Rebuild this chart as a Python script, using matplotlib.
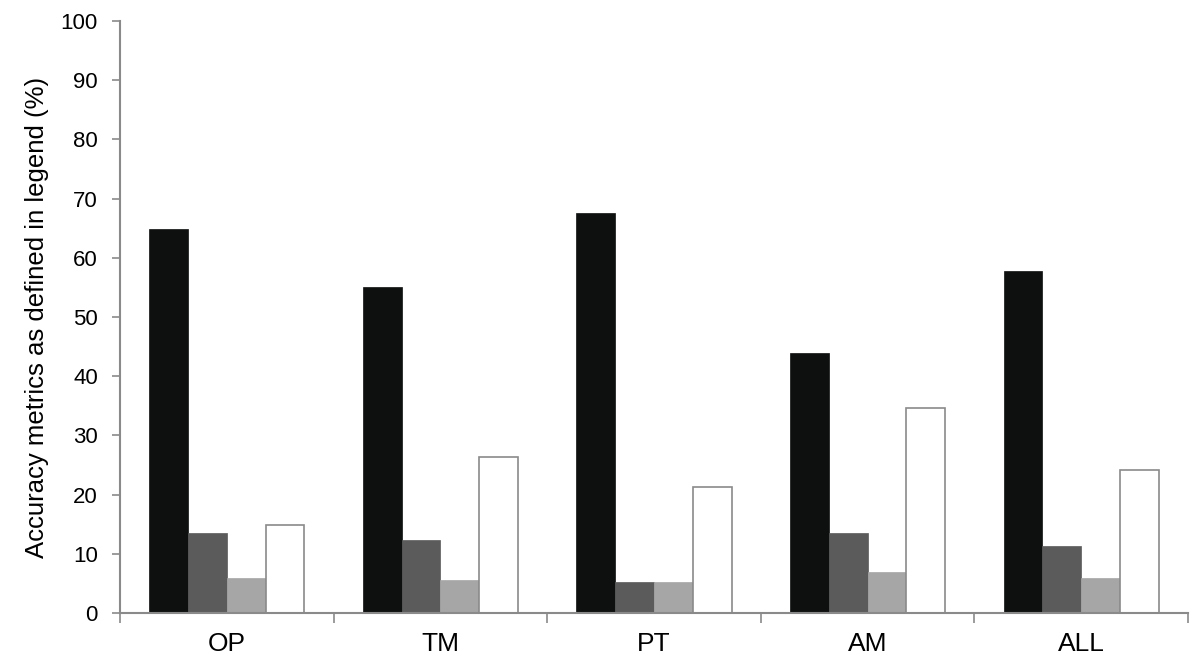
import numpy as np
import matplotlib
matplotlib.use("Agg")
import matplotlib.pyplot as plt

plt.rcParams['font.family'] = ['Liberation Sans', 'DejaVu Sans']

categories = ["OP", "TM", "PT", "AM", "ALL"]
series_1 = [64.8, 55.0, 67.5, 44.0, 57.8]
series_2 = [13.6, 12.4, 5.2, 13.6, 11.3]
series_3 = [6.0, 5.6, 5.2, 6.9, 5.9]
series_4 = [14.9, 26.3, 21.3, 34.6, 24.2]

colors = ["#0e100f", "#5b5b5b", "#a6a6a6", "#ffffff"]
axis_color = "#8a8a8a"

fig = plt.figure(figsize=(12, 6.71), dpi=100)
ax = fig.add_axes([0.1, 0.0864, 0.89, 0.8823])

x = np.arange(len(categories))
w = 0.1815
for i, (vals, c) in enumerate(zip([series_1, series_2, series_3, series_4], colors)):
    ax.bar(x + (i - 1.5) * w, vals, width=w, color=c,
           edgecolor=axis_color if c == "#ffffff" else c, linewidth=1.2 if c == "#ffffff" else 0.5,
           zorder=2)

ax.set_xlim(-0.5, len(categories) - 0.5)
ax.set_ylim(0, 100)
ax.set_yticks(np.arange(0, 101, 10))
ax.set_xticks(x)
ax.set_xticklabels(categories)
ax.set_xticks(np.arange(-0.5, len(categories)), minor=True)
ax.tick_params(axis="x", which="major", length=0, pad=14, labelsize=19)
ax.tick_params(axis="x", which="minor", length=7, color=axis_color, width=1.2)
ax.tick_params(axis="y", length=6, color=axis_color, width=1.2, labelsize=16, pad=10)

for s in ["top", "right"]:
    ax.spines[s].set_visible(False)
for s in ["left", "bottom"]:
    ax.spines[s].set_color(axis_color)
    ax.spines[s].set_linewidth(1.5)

ax.set_ylabel("Accuracy metrics as defined in legend (%)", fontsize=18.5, labelpad=8)

fig.savefig("out.png", dpi=100)
